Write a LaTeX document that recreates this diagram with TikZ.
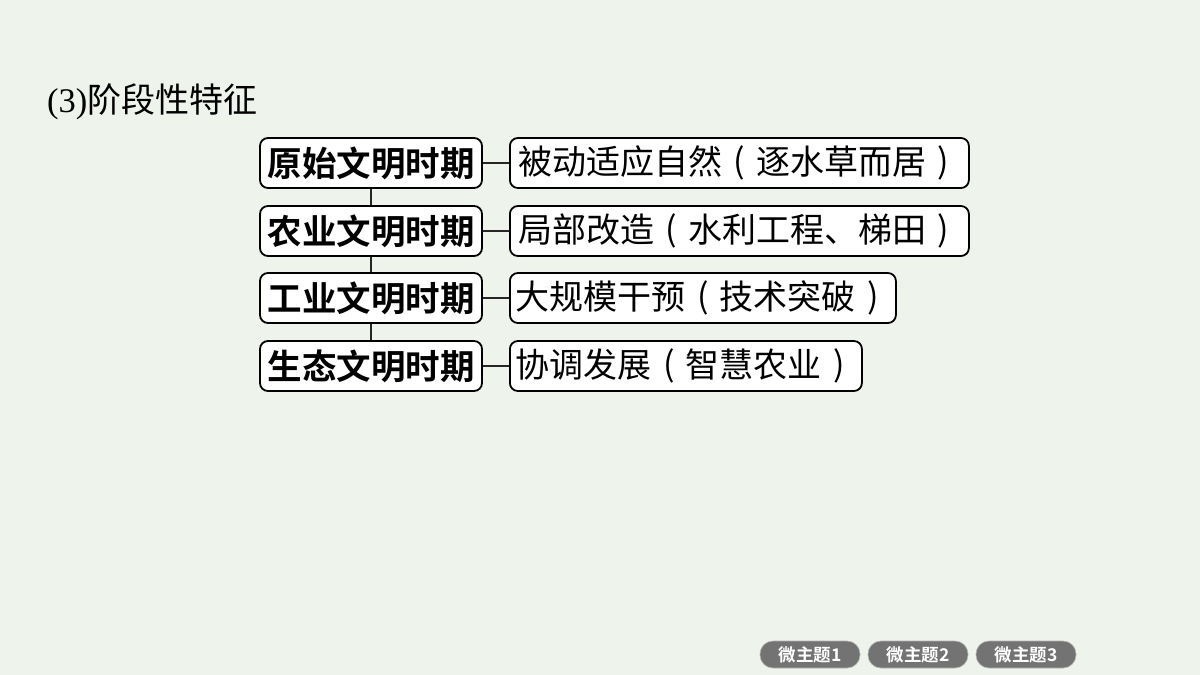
\documentclass[tikz,border=0pt]{standalone}
\usepackage{fontspec}
\setmainfont{Liberation Serif}
\newfontfamily\cjk{Noto Sans CJK SC}
\newfontfamily\cjkb{Noto Sans CJK SC Bold}
\newcommand{\lpar}{\makebox[1em][c]{\raisebox{0.02em}{(}}}
\newcommand{\rpar}{\makebox[1em][c]{\raisebox{0.02em}{)}}}
\begin{document}
\begin{tikzpicture}[x=1pt,y=-1pt,
  period/.style={draw=black, line width=1.8pt, rounded corners=8pt, fill=white,
    minimum width=222pt, minimum height=50pt, inner sep=0pt,
    font=\cjkb\fontsize{34.5}{38}\selectfont},
  desc/.style={draw=black, line width=1.8pt, rounded corners=8pt, fill=white,
    minimum height=50pt, inner ysep=0pt, inner xsep=0pt, anchor=west,
    font=\cjk\fontsize{34}{38}\selectfont},
  link/.style={line width=1.5pt, draw=black!85},
  btn/.style={fill=black!55, draw=black!30, line width=0.6pt, rounded corners=13pt,
    minimum width=100pt, minimum height=27pt, inner sep=0pt,
    text=white, font=\cjkb\fontsize{17.5}{19}\selectfont}]
\fill[fill={rgb,255:red,238;green,243;blue,236}] (0,0) rectangle (1200,675);
\useasboundingbox (0,0) rectangle (1200,675);

\node[anchor=base west, inner sep=0pt, font=\fontsize{34.5}{38}\selectfont] (title) at (47,112)
  {(3)\cjk\fontsize{34}{38}\selectfont 阶段性特征};

\node[period] (p1) at (371,163) {原始文明时期};
\node[period] (p2) at (371,231) {农业文明时期};
\node[period] (p3) at (371,298) {工业文明时期};
\node[period] (p4) at (371,366) {生态文明时期};

\node[desc, minimum width=459pt] (d1) at (509,163) {被动适应自然\lpar 逐水草而居\rpar};
\node[desc, minimum width=459pt] (d2) at (509,231) {局部改造\lpar 水利工程、梯田\rpar};
\node[desc, minimum width=386pt] (d3) at (509,298) {大规模干预\lpar 技术突破\rpar};
\node[desc, minimum width=352pt] (d4) at (509,366) {协调发展\lpar 智慧农业\rpar};

\draw[link] (p1.south) -- (p2.north);
\draw[link] (p2.south) -- (p3.north);
\draw[link] (p3.south) -- (p4.north);
\draw[link] (p1.east) -- (d1.west);
\draw[link] (p2.east) -- (d2.west);
\draw[link] (p3.east) -- (d3.west);
\draw[link] (p4.east) -- (d4.west);

\node[btn] (b1) at (810,654.5) {微主题1};
\node[btn] (b2) at (918,654.5) {微主题2};
\node[btn] (b3) at (1026,654.5) {微主题3};
\end{tikzpicture}
\end{document}
